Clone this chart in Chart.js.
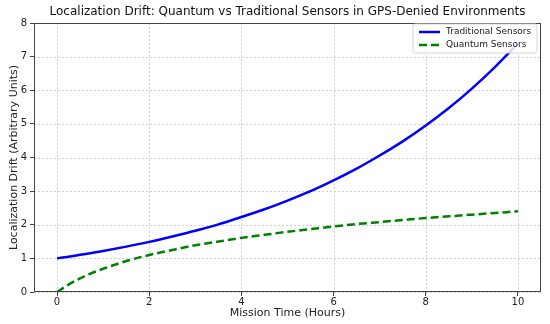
<!DOCTYPE html>
<html>
<head>
<meta charset="utf-8">
<script src="https://cdn.jsdelivr.net/npm/chart.js@4"></script>
<style>
  html, body { margin: 0; padding: 0; background: #ffffff; }
  #wrap { width: 550px; height: 324px; }
</style>
</head>
<body>
<div id="wrap"><canvas id="drift-chart" width="550" height="324"></canvas></div>
<script>
// data
const hours = [0, 0.25, 0.5, 0.75, 1, 1.5, 2, 2.5, 3, 3.5, 4, 4.5, 5, 5.5, 6, 6.5, 7, 7.5, 8, 8.5, 9, 9.5, 10];
const traditional = [1.00, 1.05, 1.105, 1.16, 1.22, 1.35, 1.49, 1.65, 1.82, 2.01, 2.23, 2.46, 2.72, 3.00, 3.32, 3.67, 4.06, 4.48, 4.95, 5.47, 6.05, 6.69, 7.39];
const quantum = [0.00, 0.22, 0.405, 0.56, 0.69, 0.92, 1.10, 1.25, 1.39, 1.50, 1.61, 1.70, 1.79, 1.87, 1.95, 2.02, 2.08, 2.14, 2.20, 2.25, 2.30, 2.35, 2.40];
const xTicks = [0, 2, 4, 6, 8, 10];
const seriesNames = ['Traditional Sensors', 'Quantum Sensors'];
const titleText = 'Localization Drift: Quantum vs Traditional Sensors in GPS-Denied Environments';
const xTitle = 'Mission Time (Hours)';
const yTitle = 'Localization Drift (Arbitrary Units)';

const FONT = "'DejaVu Sans', sans-serif";

// dashed grid from the chart's own scales
const dashedGrid = {
  id: 'dashedGrid',
  beforeDatasetsDraw(chart) {
    const ctx = chart.ctx;
    const a = chart.chartArea;
    const xs = chart.scales.x, ys = chart.scales.y;
    ctx.save();
    ctx.strokeStyle = '#cfcfcf';
    ctx.lineWidth = 1;
    ctx.setLineDash([2, 2]);
    ctx.beginPath();
    xs.ticks.forEach(t => {
      const px = Math.round(xs.getPixelForValue(t.value)) + 0.5;
      ctx.moveTo(px, a.top);
      ctx.lineTo(px, a.bottom);
    });
    ys.ticks.forEach(t => {
      const py = Math.round(ys.getPixelForValue(t.value)) + 0.5;
      ctx.moveTo(a.left, py);
      ctx.lineTo(a.right, py);
    });
    ctx.stroke();
    ctx.restore();
  }
};

// titles, x tick labels, frame and legend drawn by hand (matplotlib look)
const extras = {
  id: 'extras',
  afterDraw(chart) {
    const ctx = chart.ctx;
    const a = chart.chartArea;
    const xs = chart.scales.x;
    ctx.save();
    // frame
    ctx.strokeStyle = '#444444';
    ctx.lineWidth = 1;
    ctx.setLineDash([]);
    ctx.strokeRect(a.left + 0.5, a.top + 0.5, a.right - a.left - 1, a.bottom - a.top - 1);
    // title
    ctx.fillStyle = '#111111';
    ctx.font = '12px ' + FONT;
    ctx.textAlign = 'center';
    ctx.textBaseline = 'middle';
    ctx.fillText(titleText, (a.left + a.right) / 2, 12);
    // x tick labels at the scale's own tick positions
    ctx.fillStyle = '#222222';
    ctx.font = '10px ' + FONT;
    xs.ticks.forEach(t => {
      ctx.fillText(String(t.value), xs.getPixelForValue(t.value), a.bottom + 10);
    });
    // axis titles
    ctx.font = '11px ' + FONT;
    ctx.fillText(xTitle, (a.left + a.right) / 2, 313);
    ctx.save();
    ctx.translate(14, (a.top + a.bottom) / 2);
    ctx.rotate(-Math.PI / 2);
    ctx.fillText(yTitle, 0, 0);
    ctx.restore();
    // legend
    const bx = 413, by = 24, bw = 124, bh = 29;
    ctx.fillStyle = 'rgba(255,255,255,0.85)';
    ctx.strokeStyle = '#d5d5d5';
    ctx.beginPath();
    ctx.roundRect(bx, by, bw, bh, 2);
    ctx.fill();
    ctx.stroke();
    ctx.font = '9px ' + FONT;
    ctx.textAlign = 'left';
    chart.data.datasets.forEach((ds, i) => {
      const y = by + 8 + i * 13;
      ctx.strokeStyle = ds.borderColor;
      ctx.lineWidth = 2.5;
      ctx.setLineDash(ds.borderDash || []);
      ctx.beginPath();
      ctx.moveTo(bx + 6, y);
      ctx.lineTo(bx + 27, y);
      ctx.stroke();
      ctx.fillStyle = '#222222';
      ctx.fillText(ds.label, bx + 33, y);
    });
    ctx.restore();
  }
};

new Chart(document.getElementById('drift-chart'), {
  type: 'line',
  data: {
    datasets: [{
      label: seriesNames[0],
      data: hours.map((h, i) => ({ x: h, y: traditional[i] })),
      borderColor: '#0000ff',
      borderWidth: 2.5,
      pointRadius: 0,
      cubicInterpolationMode: 'monotone',
      fill: false,
    }, {
      label: seriesNames[1],
      data: hours.map((h, i) => ({ x: h, y: quantum[i] })),
      borderColor: '#008000',
      borderWidth: 2.5,
      borderDash: [8, 4],
      pointRadius: 0,
      cubicInterpolationMode: 'monotone',
      fill: false,
    }]
  },
  options: {
    responsive: false,
    animation: false,
    layout: { padding: { top: 23, right: 9, left: 0, bottom: 0 } },
    scales: {
      x: {
        type: 'linear',
        min: -0.5,
        max: 10.5,
        afterBuildTicks: scale => { scale.ticks = xTicks.map(v => ({ value: v })); },
        afterFit: scale => { scale.height = 32; },
        ticks: { display: false },
        grid: { drawOnChartArea: false, color: '#444444', tickLength: 4 },
        border: { display: false },
      },
      y: {
        min: 0,
        max: 8,
        ticks: { stepSize: 1, color: '#222222', font: { family: FONT, size: 10 }, padding: 3 },
        afterFit: scale => { scale.width = 34; },
        grid: { drawOnChartArea: false, color: '#444444', tickLength: 4 },
        border: { display: false },
      },
    },
    plugins: {
      legend: { display: false },
      title: { display: false },
      tooltip: { enabled: false },
    },
  },
  plugins: [dashedGrid, extras],
});
</script>
</body>
</html>
